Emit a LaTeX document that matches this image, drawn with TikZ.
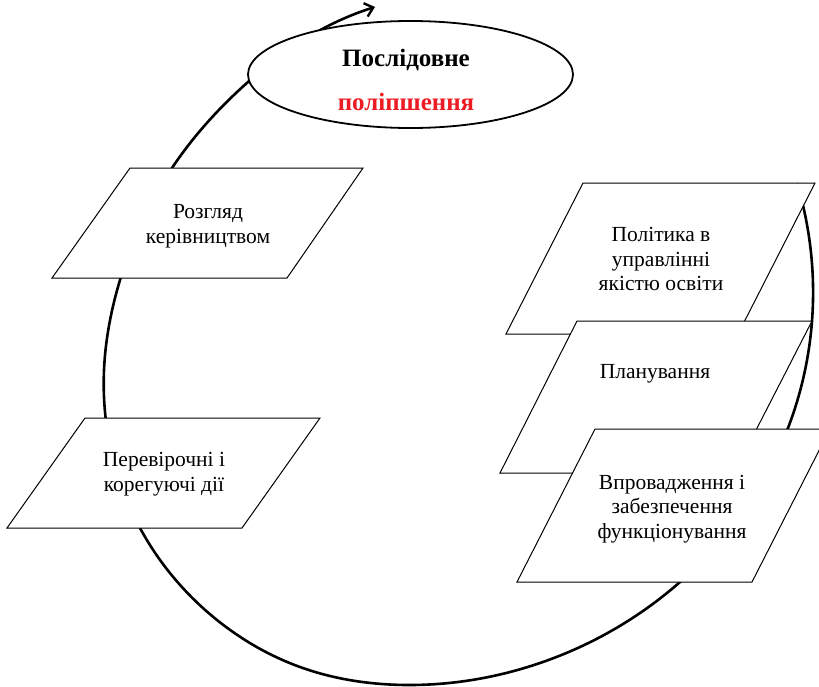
\documentclass[tikz,border=0pt]{standalone}
\usepackage{fontspec}
\setmainfont{Liberation Serif}
\usetikzlibrary{shapes.geometric,arrows.meta,hobby}
\definecolor{titlered}{RGB}{237,28,36}
\tikzset{
  para/.style={draw=black, line width=1pt, fill=white, line join=miter},
  lbl/.style={align=center, font=\fontsize{21.5}{24.5}\selectfont, inner sep=0pt},
  cyclearc/.style={line width=2.6pt, -{Straight Barb[length=8pt,width=14pt,line width=2.4pt]}},
}
\begin{document}
\begin{tikzpicture}[x=1pt,y=-1pt]
\useasboundingbox (0,0) rectangle (819,686);
\clip (0,0) rectangle (819,686);
% big cycle arc
\coordinate (arcstart) at (797,183);
\coordinate (arcend) at (375,7);
\draw[cyclearc, use Hobby shortcut] (arcstart) .. (813,300) .. (788,428) .. (680,582)
  .. (540,663) .. (410,685) .. (300,667) .. (217,620) .. (140,528) .. (104,370)
  .. (120,280) .. (172,168) .. (248,82) .. (330,25) .. (arcend);
% goal ellipse
\node[ellipse, draw, line width=1.8pt, fill=white, minimum width=325pt,
      minimum height=107pt, inner sep=0pt] (goal) at (410.5,74.5) {};
\node[align=center, inner sep=0pt, font=\fontsize{25}{44}\selectfont\bfseries]
  (goaltxt) at (406,80) {Послідовне\\\textcolor{titlered}{поліпшення}};
% left boxes
\draw[para] (130,168) -- (363,168) -- (287,278) -- (52,278) -- cycle;
\node[lbl] (review) at (208,226) {Розгляд\\керівництвом};
\draw[para] (85,418) -- (320,418) -- (242,528) -- (7,528) -- cycle;
\node[lbl] (check) at (164,474) {Перевірочні і\\корегуючі дії};
% right boxes
\draw[para] (583,183) -- (815,183) -- (738,334) -- (506,334) -- cycle;
\node[lbl] (policy) at (661,259) {Політика в\\управлінні\\якістю освіти};
\draw[para] (577,321) -- (812,321) -- (734,473) -- (500,473) -- cycle;
\node[lbl] (plan) at (655,374) {Планування};
\draw[para] (595,429) -- (830,429) -- (752,582) -- (517,582) -- cycle;
\node[lbl] (impl) at (672,509) {Впровадження і\\забезпечення\\функціонування};
\end{tikzpicture}
\end{document}
